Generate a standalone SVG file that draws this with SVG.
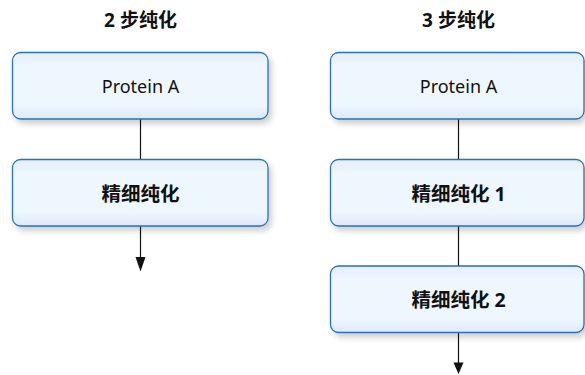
<svg xmlns="http://www.w3.org/2000/svg" width="585" height="375" viewBox="0 0 585 375">
<style>
.box{fill:url(#g);stroke:#2a6fbd;stroke-width:1.3;filter:url(#sh)}
.lbl{font-family:"Noto Sans","Noto Sans CJK SC",sans-serif;font-size:18px;fill:#111;text-anchor:middle;dominant-baseline:central}
.cn{font-weight:bold;font-size:19.5px}
.ttl{font-family:"Noto Sans","Noto Sans CJK SC",sans-serif;font-size:19px;font-weight:bold;fill:#111;text-anchor:middle;dominant-baseline:central}
.ln{stroke:#111;stroke-width:1.2;fill:none}
</style>
<defs>
<linearGradient id="g" x1="0" y1="0" x2="0" y2="1">
<stop offset="0" stop-color="#e4effb"/>
<stop offset="0.2" stop-color="#eef6fe"/>
<stop offset="0.8" stop-color="#eef6fe"/>
<stop offset="1" stop-color="#dde9f6"/>
</linearGradient>
<filter id="sh" x="-10%" y="-20%" width="125%" height="160%">
<feGaussianBlur in="SourceAlpha" stdDeviation="3"/>
<feOffset dx="3" dy="4" result="b"/>
<feComponentTransfer><feFuncA type="linear" slope="0.2"/></feComponentTransfer>
<feMerge><feMergeNode/><feMergeNode in="SourceGraphic"/></feMerge>
</filter>
</defs>
<text class="ttl" x="140.5" y="20">2 步纯化</text>
<text class="ttl" x="458.5" y="20">3 步纯化</text>
<g id="connectors">
<line class="ln" x1="140.5" y1="119" x2="140.5" y2="159"/>
<line class="ln" x1="140.5" y1="226" x2="140.5" y2="257"/>
<path d="M135.5,257 L145.5,257 L140.5,271.5 Z" fill="#111"/>
<line class="ln" x1="458.5" y1="119" x2="458.5" y2="159"/>
<line class="ln" x1="458.5" y1="226" x2="458.5" y2="266"/>
<line class="ln" x1="458.5" y1="332" x2="458.5" y2="363"/>
<path d="M453.5,362.5 L463.5,362.5 L458.5,374 Z" fill="#111"/>
</g>
<g id="l-protein">
<rect class="box" x="12.5" y="52.5" width="255.5" height="66.5" rx="8"/>
<text class="lbl" x="140.5" y="86">Protein A</text>
</g>
<g id="l-polish">
<rect class="box" x="12.5" y="159.5" width="255.5" height="66.5" rx="8"/>
<text class="lbl cn" x="140.5" y="193">精细纯化</text>
</g>
<g id="r-protein">
<rect class="box" x="330.5" y="52.5" width="253.5" height="66.5" rx="8"/>
<text class="lbl" x="458.5" y="86">Protein A</text>
</g>
<g id="r-polish1">
<rect class="box" x="330.5" y="159.5" width="253.5" height="66.5" rx="8"/>
<text class="lbl cn" x="458.5" y="193">精细纯化 1</text>
</g>
<g id="r-polish2">
<rect class="box" x="330.5" y="266" width="253.5" height="66.5" rx="8"/>
<text class="lbl cn" x="458.5" y="299">精细纯化 2</text>
</g>
</svg>
